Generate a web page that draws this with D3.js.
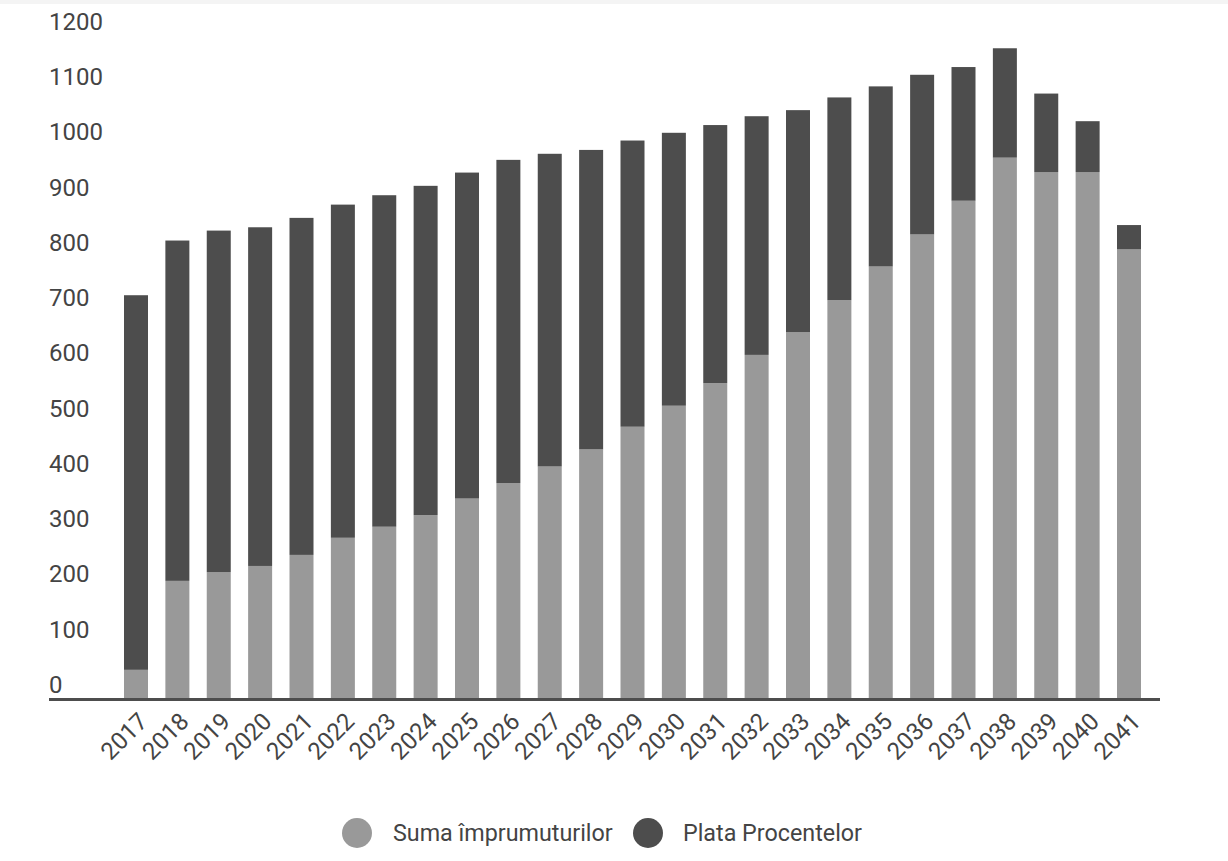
<!DOCTYPE html>
<html>
<head>
<meta charset="utf-8">
<script src="https://cdn.jsdelivr.net/npm/d3@7"></script>
<style>
  html, body { margin: 0; padding: 0; background: #ffffff; }
  svg { display: block; font-family: Roboto, "Noto Sans", sans-serif; }
</style>
</head>
<body>
<svg id="chart" width="1228" height="861"></svg>
<script>
const years = ["2017","2018","2019","2020","2021","2022","2023","2024","2025","2026","2027","2028","2029","2030","2031","2032","2033","2034","2035","2036","2037","2038","2039","2040","2041"];
const principal = [51, 212, 228, 239, 259, 290, 310, 331, 361, 389, 419, 450, 491, 529, 570, 621, 662, 720, 781, 839, 900, 978, 952, 952, 812];
const interest  = [678, 616, 618, 613, 610, 603, 600, 596, 590, 585, 566, 542, 518, 494, 467, 432, 402, 367, 326, 289, 242, 198, 142, 92, 44];
const yTicks = [0, 100, 200, 300, 400, 500, 600, 700, 800, 900, 1000, 1100, 1200];
const seriesNames = ["Suma împrumuturilor", "Plata Procentelor"];
const seriesColors = ["#999999", "#4d4d4d"];

const svg = d3.select("#chart");
const textColor = "#444444";

// faint top strip
svg.append("rect").attr("x", 0).attr("y", 0).attr("width", 1228).attr("height", 4).attr("fill", "#f4f4f4");

const step = 41.375;
const x = d3.scaleBand()
  .domain(years)
  .range([136 - step / 2, 136 + step * (years.length - 0.5)])
  .paddingInner(0.42)
  .paddingOuter(0.21);

const y = d3.scaleLinear().domain([0, 1200]).range([698, 35]);

// stacked data
const rows = years.map((yr, i) => ({ year: yr, principal: principal[i], interest: interest[i] }));
const stack = d3.stack().keys(["principal", "interest"]);
const stacked = stack(rows);

svg.append("g").selectAll("g")
  .data(stacked)
  .join("g")
  .attr("fill", (d, i) => seriesColors[i])
  .selectAll("rect")
  .data(d => d)
  .join("rect")
  .attr("x", d => x(d.data.year))
  .attr("width", x.bandwidth())
  .attr("y", d => y(d[1]))
  .attr("height", d => y(d[0]) - y(d[1]));

// y axis labels (sitting above value line)
const yAxis = d3.axisLeft(y).tickValues(yTicks).tickFormat(d3.format("d")).tickSize(0).tickPadding(0);
const yg = svg.append("g").attr("transform", "translate(49,0)").call(yAxis);
yg.select(".domain").remove();
yg.selectAll("text")
  .attr("text-anchor", "start")
  .attr("x", 0)
  .attr("dy", "-0.23em")
  .attr("fill", textColor)
  .style("font-size", "24px")
  .style("font-family", "Roboto, sans-serif");

// baseline
svg.append("line")
  .attr("x1", 49).attr("x2", 1160)
  .attr("y1", y(0) + 1.5).attr("y2", y(0) + 1.5)
  .attr("stroke", "#4d4d4d").attr("stroke-width", 3);

// x axis labels
const xAxis = d3.axisBottom(x).tickSize(0).tickPadding(0);
const xg = svg.append("g").attr("transform", "translate(0,700)").call(xAxis);
xg.select(".domain").remove();
xg.selectAll("text")
  .attr("text-anchor", "end")
  .attr("dy", null)
  .attr("y", 0)
  .attr("transform", "translate(13,23) rotate(-45)")
  .attr("fill", textColor)
  .style("font-size", "24px")
  .style("font-family", "Roboto, sans-serif");

// legend
const legend = svg.append("g").attr("transform", "translate(0,833)");
const legendPos = [{ cx: 357, tx: 393 }, { cx: 648, tx: 683 }];
seriesNames.forEach((name, i) => {
  legend.append("circle").attr("cx", legendPos[i].cx).attr("cy", 0).attr("r", 15).attr("fill", seriesColors[i]);
  legend.append("text").attr("x", legendPos[i].tx).attr("y", 0).attr("dy", "0.35em")
    .attr("fill", textColor)
    .style("font-size", "23.3px")
    .style("font-family", "Roboto, sans-serif")
    .text(name);
});
</script>
</body>
</html>
